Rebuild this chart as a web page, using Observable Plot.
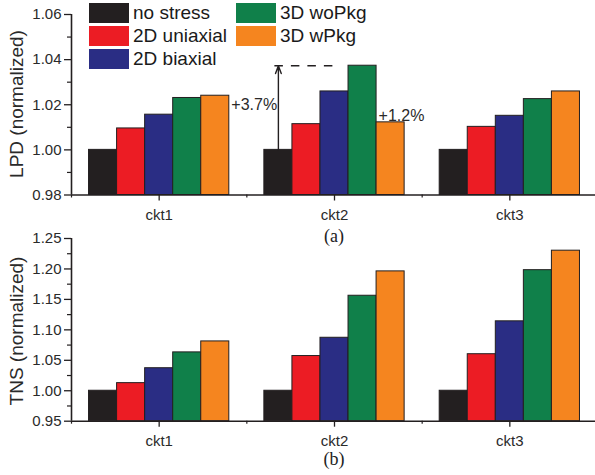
<!DOCTYPE html>
<html><head><meta charset="utf-8">
<script src="https://cdn.jsdelivr.net/npm/d3@7"></script>
<script src="https://cdn.jsdelivr.net/npm/@observablehq/plot@0.6"></script>
<style>
body{margin:0;background:#fff;}
#wrap{position:relative;width:595px;height:475px;overflow:hidden;font-family:"Liberation Sans",Arial,sans-serif;}
#wrap svg{overflow:visible;}
.panel{position:absolute;left:0;}
.cap{position:absolute;font-family:"Liberation Serif","Times New Roman",serif;font-size:18px;color:#222;transform:translate(-50%,-50%);line-height:1;}
.ylab{position:absolute;font-size:19px;color:#2a2a2a;white-space:nowrap;line-height:1;transform:translate(-50%,-50%) rotate(-90deg);}
#legend{position:absolute;left:89px;top:3px;display:grid;grid-auto-flow:column;grid-template-rows:repeat(3,23px);grid-template-columns:147px auto;z-index:2;}
.item{display:flex;align-items:center;height:20px;font-size:19px;color:#1a1a1a;line-height:20px;}
.sw{width:40px;height:20px;margin-right:4px;flex:none;}
</style></head>
<body>
<div id="wrap">
  <div id="top" class="panel" style="top:0"></div>
  <div id="bottom" class="panel" style="top:230px"></div>
  <div id="legend"></div>
  <div id="ylabTop" class="ylab" style="left:16px;top:104px"></div>
  <div id="ylabBottom" class="ylab" style="left:16px;top:331px"></div>
  <div class="cap" style="left:334px;top:236px">(a)</div>
  <div class="cap" style="left:334px;top:459px">(b)</div>
</div>
<script>
// ---- data ----
const circuits = ["ckt1", "ckt2", "ckt3"];
const series = ["no stress", "2D uniaxial", "2D biaxial", "3D woPkg", "3D wPkg"];
const colors = ["#231f20", "#ec1c24", "#2a2d84", "#10804a", "#f5851f"];

// LPD (normalized), per series, values for ckt1..ckt3
const lpdNoStress = [1.000, 1.000, 1.000];
const lpd2DUniaxial = [1.0095, 1.0114, 1.0102];
const lpd2DBiaxial = [1.0156, 1.0259, 1.0151];
const lpd3DWoPkg = [1.0230, 1.0373, 1.0225];
const lpd3DWPkg = [1.0240, 1.0122, 1.0259];

// TNS (normalized)
const tnsNoStress = [1.000, 1.000, 1.000];
const tns2DUniaxial = [1.0125, 1.057, 1.060];
const tns2DBiaxial = [1.037, 1.087, 1.114];
const tns3DWoPkg = [1.063, 1.156, 1.198];
const tns3DWPkg = [1.081, 1.196, 1.230];

const lpdTicks = [0.98, 1.00, 1.02, 1.04, 1.06];
const lpdMinor = [0.99, 1.01, 1.03, 1.05];
const tnsTicks = [0.95, 1.00, 1.05, 1.10, 1.15, 1.20, 1.25];
const tnsMinor = [0.975, 1.025, 1.075, 1.125, 1.175, 1.225];

const yLabels = ["LPD (normalized)", "TNS (normalized)"];
const annoLabels = ["+3.7%", "+1.2%"];

// ---- layout helpers ----
const ink = "#231f20";
const txt = "#2a2a2a";
const barFrac = 0.16;
const xDomain = [-0.5, circuits.length - 0.5];
const xOf = (ci, si) => ci + (si - series.length / 2) * barFrac;

function rowsFor(values) {
  const rows = [];
  values.forEach((arr, si) => arr.forEach((v, ci) =>
    rows.push({ckt: circuits[ci], ci, series: series[si], si, value: v})));
  return rows;
}

function panel({values, yDomain, ticks, minor, fmt, height, marginTop, marginBottom, extra = []}) {
  const rows = rowsFor(values);
  return Plot.plot({
    width: 595, height, marginLeft: 71, marginRight: -2, marginTop, marginBottom,
    x: {domain: xDomain},
    y: {domain: yDomain},
    color: {domain: series, range: colors},
    style: {fontFamily: "'Liberation Sans', Arial, sans-serif", fontSize: "15px", color: ink, background: "transparent", overflow: "visible"},
    marks: [
      Plot.rect(rows, {x1: d => xOf(d.ci, d.si), x2: d => xOf(d.ci, d.si) + barFrac, y1: yDomain[0], y2: "value",
        fill: "series", stroke: ink, strokeWidth: 1}),
      Plot.ruleY([yDomain[0]], {stroke: ink, strokeWidth: 1.6}),
      Plot.ruleX([xDomain[0]], {stroke: ink, strokeWidth: 1.6}),
      Plot.axisY({ticks, tickSize: 7, tickPadding: 3, tickFormat: fmt, label: null, strokeWidth: 1.3, fill: txt, fontSize: 15}),
      Plot.axisY({ticks: minor, tickSize: 4, tickFormat: () => "", label: null, strokeWidth: 1.2}),
      Plot.axisX({ticks: circuits.map((c, i) => i), tickSize: 6, tickPadding: 8, tickFormat: i => circuits[i], label: null, strokeWidth: 1.3, fill: txt, fontSize: 15}),
      Plot.axisX({ticks: d3.range(circuits.length + 1).map(i => i - 0.5), tickSize: 3, tickFormat: () => "", label: null, strokeWidth: 1.2}),
      ...extra
    ]
  });
}

// annotations on LPD panel
const arrowX = xOf(1, 0) + barFrac / 2;          // centre of ckt2 "no stress" bar
const peak = lpd3DWoPkg[1];
const annoMarks = [
  Plot.ruleY([peak], {x1: arrowX - 0.02, x2: 1.0, stroke: ink, strokeWidth: 1.5, strokeDasharray: "8.5,8"}),
  Plot.arrow([0], {x1: arrowX, x2: arrowX, y1: lpdNoStress[1], y2: peak, stroke: ink, strokeWidth: 1.4, headLength: 9, headAngle: 40}),
  Plot.text([annoLabels[0]], {x: xOf(0, 4) + barFrac, y: lpd3DWPkg[0], textAnchor: "start", dx: 2, dy: 9, fontSize: 16, fill: txt}),
  Plot.text([annoLabels[1]], {x: xOf(1, 4), y: lpd3DWPkg[1], textAnchor: "start", lineAnchor: "bottom", dx: 2, dy: -1, fontSize: 16, fill: txt})
];

document.getElementById("top").append(panel({
  values: [lpdNoStress, lpd2DUniaxial, lpd2DBiaxial, lpd3DWoPkg, lpd3DWPkg],
  yDomain: [0.98, 1.06], ticks: lpdTicks, minor: lpdMinor, fmt: d3.format(".2f"),
  height: 230, marginTop: 14, marginBottom: 35.5, extra: annoMarks
}));

document.getElementById("bottom").append(panel({
  values: [tnsNoStress, tns2DUniaxial, tns2DBiaxial, tns3DWoPkg, tns3DWPkg],
  yDomain: [0.95, 1.25], ticks: tnsTicks, minor: tnsMinor, fmt: d3.format(".2f"),
  height: 245, marginTop: 8, marginBottom: 54.3
}));

document.getElementById("ylabTop").textContent = yLabels[0];
document.getElementById("ylabBottom").textContent = yLabels[1];

// legend
const legend = document.getElementById("legend");
series.forEach((s, i) => {
  const item = document.createElement("div");
  item.className = "item";
  const sw = document.createElement("span");
  sw.className = "sw";
  sw.style.background = colors[i];
  const t = document.createElement("span");
  t.textContent = s;
  item.append(sw, t);
  legend.append(item);
});
</script>
</body></html>
